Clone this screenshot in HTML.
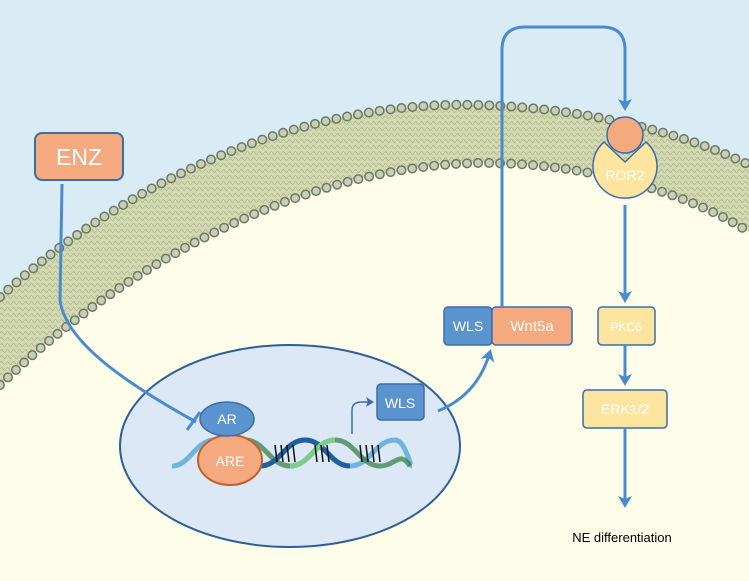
<!DOCTYPE html>
<html><head><meta charset="utf-8"><style>
html,body{margin:0;padding:0;background:#fff}
svg{display:block}
text{font-family:"Liberation Sans",sans-serif}
</style></head><body>
<svg width="749" height="581" viewBox="0 0 749 581" xmlns="http://www.w3.org/2000/svg">
<defs>
<marker id="ah" markerWidth="16" markerHeight="16" refX="9" refY="7" orient="auto" markerUnits="userSpaceOnUse">
<path d="M0,0 L12,7 L0,14 L3,7 Z" fill="#4a8bd0"/>
</marker>
<marker id="ahs" markerWidth="10" markerHeight="10" refX="6" refY="5" orient="auto" markerUnits="userSpaceOnUse">
<path d="M0,0 L8,5 L0,10 L2,5 Z" fill="#3a6ea8"/>
</marker>
<pattern id="wv" width="6" height="6" patternUnits="userSpaceOnUse">
<path d="M0,3 Q1.5,0 3,3 T6,3" fill="none" stroke="#a9b08a" stroke-width="0.7"/>
</pattern>
</defs>
<rect x="0" y="0" width="749" height="581" fill="#fefde9"/>
<path d="M0,0 H749 V165 C700,140 600,108 479,105 C330,100 150,160 0,297 Z" fill="#d9ebf5"/>
<path d="M0,297 C150,160 330,100 479,105 C600,108 700,140 749,165 V232 C700,200 600,162 479,163 C330,165 150,240 0,385 Z" fill="#d3d9b0"/>
<path d="M0,297 C150,160 330,100 479,105 C600,108 700,140 749,165 V232 C700,200 600,162 479,163 C330,165 150,240 0,385 Z" fill="url(#wv)"/>
<g fill="none" stroke-linecap="round" stroke-dasharray="0 11">
<path d="M0,297 C150,160 330,100 479,105 C600,108 700,140 749,165" stroke="#6d7763" stroke-width="10"/>
<path d="M0,297 C150,160 330,100 479,105 C600,108 700,140 749,165" stroke="#c7cfb6" stroke-width="7"/>
<path d="M0,385 C150,240 330,165 479,163 C600,162 700,200 749,232" stroke="#6d7763" stroke-width="10"/>
<path d="M0,385 C150,240 330,165 479,163 C600,162 700,200 749,232" stroke="#c7cfb6" stroke-width="7"/>
</g>
<ellipse cx="290" cy="446" rx="170" ry="101" fill="#dce8f5" stroke="#2e5f98" stroke-width="2"/>
<rect x="35" y="133" width="88" height="47" rx="7" fill="#f4a97f" stroke="#3a6ea8" stroke-width="2"/>
<text x="79" y="165" text-anchor="middle" font-size="23" fill="#fff">ENZ</text>
<path d="M62,184 L60,300 C65,340 120,380 196,422" fill="none" stroke="#4a8bd0" stroke-width="3"/>
<line x1="187" y1="430" x2="200" y2="412" stroke="#4a8bd0" stroke-width="3"/>
<g fill="none" stroke-width="5">
<path d="M172,466 C190,466 195,440 215,440 C235,440 240,466 260,466 C280,466 285,440 305,440 C325,440 330,466 350,466 C370,466 375,440 395,440 C405,440 410,466 412,466" stroke="#6cb5e0"/>
<path d="M200,466 C220,466 225,440 245,440 C265,440 270,466 290,466 C310,466 315,440 335,440 C355,440 360,466 380,466 C395,466 400,450 410,466" stroke="#2f7a3a" opacity="0.7"/>
<path d="M260,466 C280,466 285,440 305,440 C325,440 330,466 350,466" stroke="#1f5fa0"/>
<path d="M290,466 C310,466 315,440 335,440" stroke="#7ccc8a"/>
</g>
<g stroke="#111" stroke-width="1.5">
<line x1="275" y1="445" x2="277" y2="462"/><line x1="281" y1="445" x2="283" y2="462"/><line x1="287" y1="445" x2="289" y2="462"/><line x1="293" y1="445" x2="295" y2="462"/><line x1="315" y1="445" x2="317" y2="462"/><line x1="321" y1="445" x2="323" y2="462"/><line x1="327" y1="445" x2="329" y2="462"/><line x1="360" y1="445" x2="362" y2="462"/><line x1="366" y1="445" x2="368" y2="462"/><line x1="372" y1="445" x2="374" y2="462"/><line x1="378" y1="445" x2="380" y2="462"/>
</g>
<ellipse cx="230" cy="460" rx="32" ry="25" fill="#f4a97f" stroke="#c0602d" stroke-width="2"/>
<text x="230" y="466" text-anchor="middle" font-size="14" fill="#fff">ARE</text>
<ellipse cx="227" cy="419" rx="27" ry="17" fill="#5b93cf" stroke="#3a6ea8" stroke-width="1.5"/>
<text x="227" y="424" text-anchor="middle" font-size="14" fill="#fff">AR</text>
<path d="M352,434 V410 Q352,402 362,402 H372" fill="none" stroke="#3a6ea8" stroke-width="1.5" marker-end="url(#ahs)"/>
<rect x="377" y="384" width="47" height="36" rx="4" fill="#5b93cf" stroke="#3a6ea8" stroke-width="1.5"/>
<text x="400" y="408" text-anchor="middle" font-size="14" fill="#fff">WLS</text>
<path d="M438,411 C465,400 482,380 490,352" fill="none" stroke="#4a8bd0" stroke-width="3" marker-end="url(#ah)"/>
<rect x="444" y="307" width="48" height="38" rx="4" fill="#5b93cf" stroke="#3a6ea8" stroke-width="1.5"/>
<text x="468" y="331" text-anchor="middle" font-size="14" fill="#fff">WLS</text>
<rect x="492" y="307" width="80" height="38" rx="4" fill="#f4a97f" stroke="#3a6ea8" stroke-width="1.5"/>
<text x="532" y="331" text-anchor="middle" font-size="15" fill="#fff">Wnt5a</text>
<path d="M502,307 V50 Q502,27 525,27 H602 Q625,27 625,50 V108" fill="none" stroke="#4a8bd0" stroke-width="3" marker-end="url(#ah)"/>
<path d="M604,142 A32,32 0 1 0 646,142 L625,162 Z" fill="#fde5a0" stroke="#3a6ea8" stroke-width="1.5"/>
<circle cx="625" cy="135" r="18" fill="#f4a97f" stroke="#3a6ea8" stroke-width="1.5"/>
<text x="625" y="180" text-anchor="middle" font-size="14" fill="#fff">ROR2</text>
<line x1="625" y1="205" x2="625" y2="300" stroke="#4a8bd0" stroke-width="3" marker-end="url(#ah)"/>
<rect x="598" y="307" width="57" height="38" rx="4" fill="#fde5a0" stroke="#3a6ea8" stroke-width="1.5"/>
<text x="626" y="331" text-anchor="middle" font-size="12" fill="#fff">PKCδ</text>
<line x1="625" y1="345" x2="625" y2="383" stroke="#4a8bd0" stroke-width="3" marker-end="url(#ah)"/>
<rect x="583" y="390" width="84" height="38" rx="4" fill="#fde5a0" stroke="#3a6ea8" stroke-width="1.5"/>
<text x="625" y="414" text-anchor="middle" font-size="14" fill="#fff">ERK1/2</text>
<line x1="625" y1="428" x2="625" y2="505" stroke="#4a8bd0" stroke-width="3" marker-end="url(#ah)"/>
<text x="622" y="542" text-anchor="middle" font-size="13" fill="#000">NE differentiation</text>
</svg>
</body></html>
